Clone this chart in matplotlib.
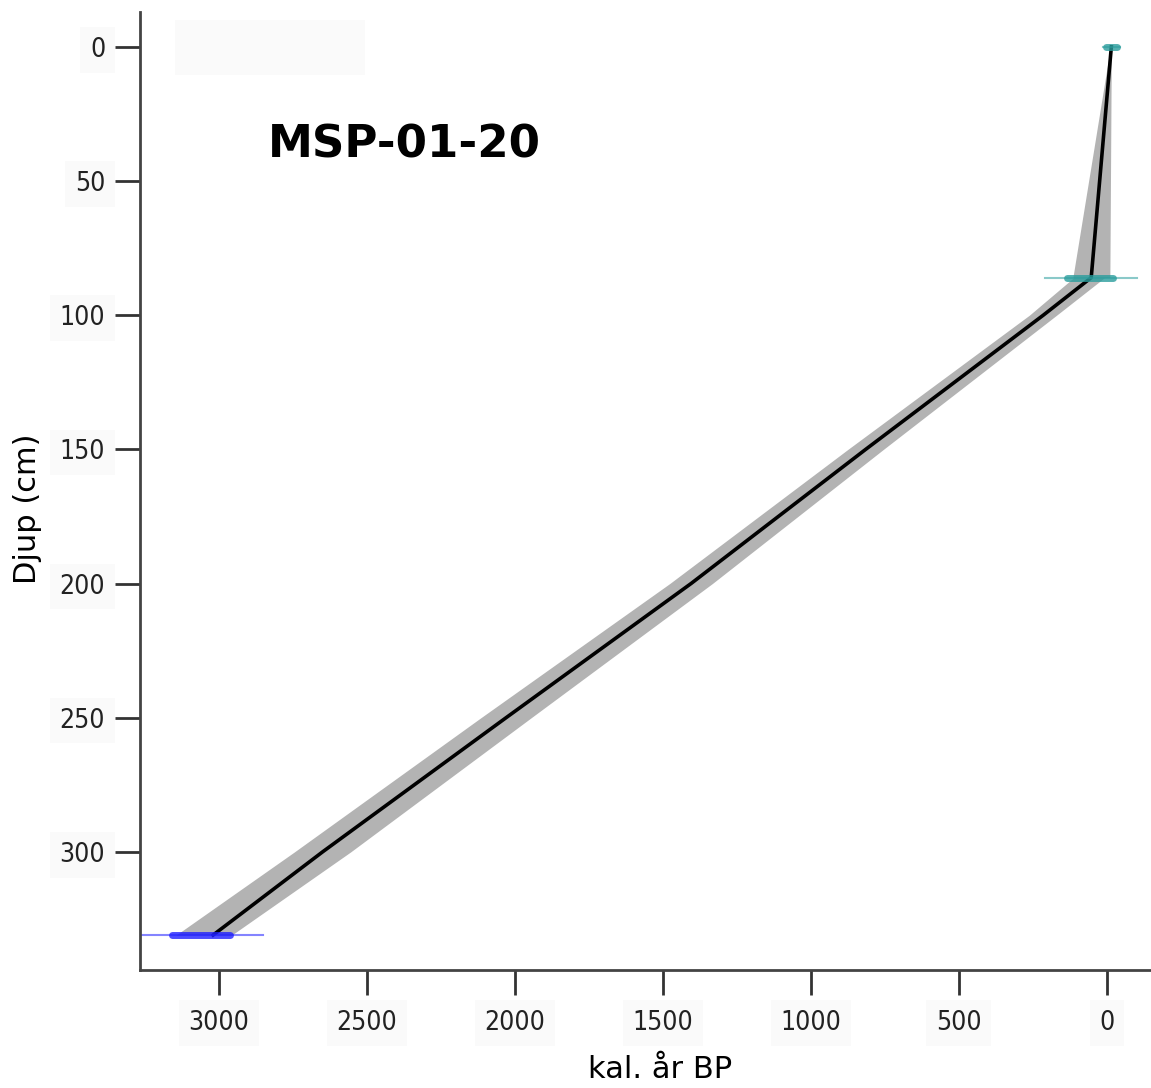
import matplotlib.pyplot as plt
from matplotlib.patches import Rectangle

# age-depth model
depth = [86, 100, 150, 200, 250, 300, 331]
age_median = [53, 215, 815, 1405, 2030, 2650, 3020]
age_min = [8, 170, 755, 1333, 1945, 2555, 2957]
age_max = [112, 262, 875, 1477, 2115, 2745, 3145]
# upper part (0-86 cm), band is lopsided
top_depth = [0, 86]
top_median = [-15, 53]
top_min = [-15, -10]
top_max = [-12, 115]

# dated levels
date_depth = [0, 86, 331]
date_range_lo = [-44, -101, 2851]
date_range_hi = [13, 209, 3267]
date_core_lo = [-35, -20, 2963]
date_core_hi = [2, 135, 3159]
date_color = ['#2a9d9d', '#2a9d9d', '#2020ff']

core_name = "MSP-01-20"
xticks = [3000, 2500, 2000, 1500, 1000, 500, 0]
yticks = [0, 50, 100, 150, 200, 250, 300]

plt.rcParams['font.family'] = ['DejaVu Sans']

fig = plt.figure(figsize=(11.51, 10.88), dpi=100)
ax = fig.add_axes([0.1216, 0.1085, 0.8784, 0.8805])

# faint box in the top left corner
ax.add_patch(Rectangle((0.035, 0.934), 0.188, 0.058, transform=ax.transAxes,
                       facecolor='#fafafa', edgecolor='none', zorder=0))

gray = '#b3b3b3'
ax.fill_betweenx(depth, age_min, age_max, color=gray, lw=0)
ax.fill_betweenx(top_depth, top_min, top_max, color=gray, lw=0)
ax.plot(top_median + age_median, top_depth + depth, color='black', lw=2.6,
        solid_joinstyle='round')

for d, lo, hi, clo, chi, c in zip(date_depth, date_range_lo, date_range_hi,
                                  date_core_lo, date_core_hi, date_color):
    ax.plot([lo, hi], [d, d], color=c, lw=1.5, alpha=0.55)
    ax.plot([clo, chi], [d, d], color=c, lw=5, alpha=0.8, solid_capstyle='round')

ax.text(2835, 36.5, core_name, fontsize=32.5, fontweight='bold', ha='left', va='center')

ax.set_xlim(3267, -149)
ax.set_ylim(344, -13)
ax.set_xticks(xticks)
ax.set_yticks(yticks)

for s in ['top', 'right']:
    ax.spines[s].set_visible(False)
for s in ['left', 'bottom']:
    ax.spines[s].set_color('#444444')
    ax.spines[s].set_linewidth(2)

ax.tick_params(axis='both', length=18, width=2, color='#333333',
               labelcolor='#222222')
ax.tick_params(axis='y', pad=7)
ax.tick_params(axis='x', pad=11)
for lab in ax.get_xticklabels() + ax.get_yticklabels():
    lab.set_fontsize(19)
    lab.set_fontstretch('condensed')
    lab.set_bbox(dict(facecolor='#fafafa', edgecolor='none', pad=7))

ax.set_xlabel("kal. år BP", fontsize=22, va='top')
ax.xaxis.set_label_coords(0.514, -0.089)
ax.set_ylabel("Djup (cm)", fontsize=22, va='bottom')
ax.yaxis.set_label_coords(-0.097, 0.481)

fig.savefig("out.png", dpi=100)
